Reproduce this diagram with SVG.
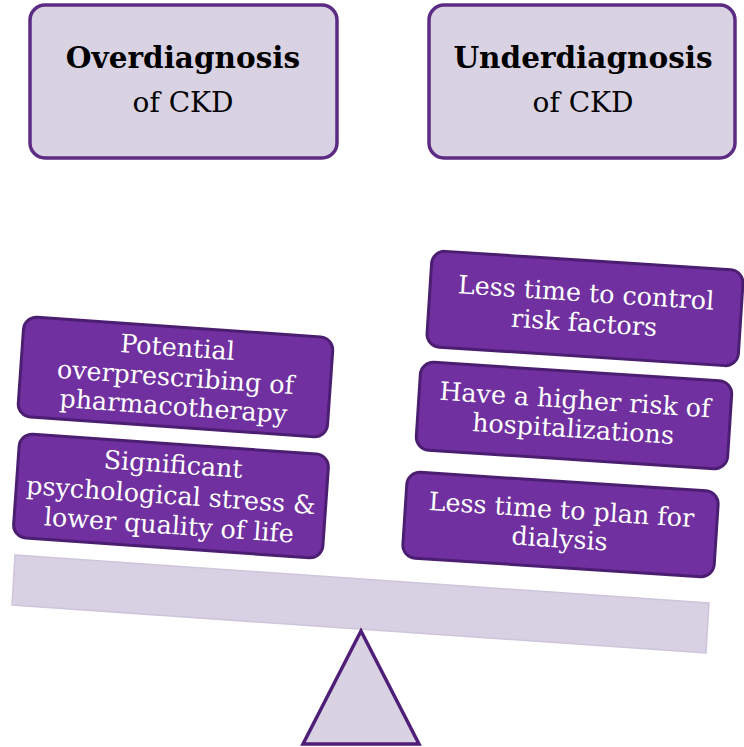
<svg xmlns="http://www.w3.org/2000/svg" width="744" height="747" viewBox="0 0 744 747">
  <style>
    .head { fill: #D9D2E3; stroke: #5C2C84; stroke-width: 3.5; }
    .item { fill: #7030A0; stroke: #4C1E72; stroke-width: 3; }
    .htitle { font-family: "DejaVu Serif", "Liberation Serif", serif; font-weight: bold; font-size: 29.5px; fill: #000; text-anchor: middle; }
    .hsub { font-family: "DejaVu Serif", "Liberation Serif", serif; font-size: 28px; fill: #000; text-anchor: middle; }
    .itxt { font-family: "DejaVu Serif", "Liberation Serif", serif; font-size: 25.4px; fill: #FFFFFF; text-anchor: middle; }
    .beam { fill: #D8D1E3; stroke: #CEC5DB; stroke-width: 1.5; }
    .fulcrum { fill: #D9D2E3; stroke: #4F1F78; stroke-width: 3.5; stroke-linejoin: miter; }
  </style>

  <!-- column headers -->
  <g id="overdiagnosis">
    <rect class="head" x="30" y="5" width="307" height="153" rx="15"/>
    <text class="htitle" x="183" y="68">Overdiagnosis</text>
    <text class="hsub" x="183" y="112">of CKD</text>
  </g>
  <g id="underdiagnosis">
    <rect class="head" x="429" y="5" width="306" height="153" rx="15"/>
    <text class="htitle" x="583" y="68">Underdiagnosis</text>
    <text class="hsub" x="583" y="112">of CKD</text>
  </g>

  <!-- seesaw -->
  <g id="beam">
    <polygon class="beam" points="15,555 709,603 706,653 12,605"/>
  </g>
  <g id="fulcrum">
    <polygon class="fulcrum" points="361,631 303,744 419,744"/>
  </g>

  <!-- left pan: consequences of overdiagnosis -->
  <g id="overprescribing" transform="translate(175.5,377) rotate(4)">
    <rect class="item" x="-155" y="-50" width="310" height="100" rx="13"/>
    <text class="itxt" y="-21">Potential</text>
    <text class="itxt" y="9">overprescribing of</text>
    <text class="itxt" y="38">pharmacotherapy</text>
  </g>
  <g id="stress" transform="translate(171,496) rotate(4)">
    <rect class="item" x="-155" y="-52" width="310" height="104" rx="13"/>
    <text class="itxt" y="-23">Significant</text>
    <text class="itxt" y="8">psychological stress &amp;</text>
    <text class="itxt" y="38">lower quality of life</text>
  </g>

  <!-- right pan: consequences of underdiagnosis -->
  <g id="risk-factors" transform="translate(585,308.5) rotate(3.7)">
    <rect class="item" x="-156" y="-48" width="312" height="96" rx="13"/>
    <text class="itxt" y="-7">Less time to control</text>
    <text class="itxt" y="23">risk factors</text>
  </g>
  <g id="hospitalizations" transform="translate(574,415.5) rotate(3.7)">
    <rect class="item" x="-156" y="-44" width="312" height="88" rx="13"/>
    <text class="itxt" y="-7">Have a higher risk of</text>
    <text class="itxt" y="22">hospitalizations</text>
  </g>
  <g id="dialysis" transform="translate(560.5,524.5) rotate(3.7)">
    <rect class="item" x="-156" y="-43" width="312" height="86" rx="13"/>
    <text class="itxt" y="-6">Less time to plan for</text>
    <text class="itxt" y="23">dialysis</text>
  </g>
</svg>
